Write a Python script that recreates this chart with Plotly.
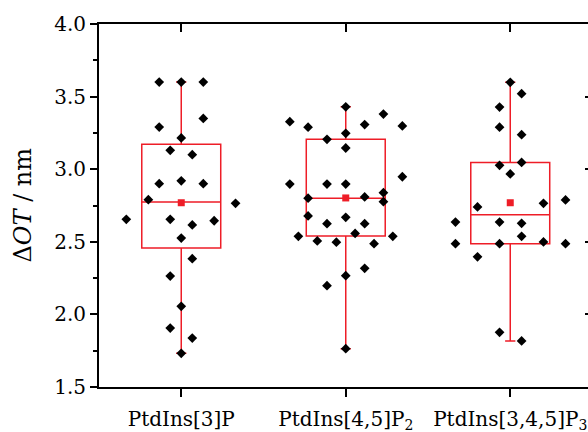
import plotly.graph_objects as go

# ---- data ----
categories = ["PtdIns[3]P", "PtdIns[4,5]P<sub>2</sub>", "PtdIns[3,4,5]P<sub>3</sub>"]

g1_values = [3.60, 3.60, 3.60, 3.35, 3.29, 3.215, 3.13, 3.10, 2.90, 2.92, 2.90, 2.79,
             2.765, 2.655, 2.655, 2.616, 2.645, 2.526, 2.384, 2.264, 2.056, 1.906, 1.837, 1.732]
g1_jitter = [-0.134, 0.0, 0.134, 0.134, -0.134, 0.0, -0.067, 0.067, -0.134, 0.0, 0.134, -0.20,
             0.33, -0.334, -0.067, 0.067, 0.20, 0.0, 0.067, -0.067, 0.0, -0.067, 0.067, 0.0]

g2_values = [3.43, 3.38, 3.327, 3.289, 3.307, 3.298, 3.247, 3.206, 3.146, 2.948, 2.898, 2.898,
             2.898, 2.838, 2.776, 2.809, 2.800, 2.678, 2.669, 2.625, 2.625, 2.558, 2.538, 2.538,
             2.506, 2.497, 2.487, 2.317, 2.267, 2.198, 1.764]
g2_jitter = [0.0, 0.229, -0.34, -0.229, 0.115, 0.344, 0.0, -0.114, 0.0, 0.344, -0.34, -0.114,
             0.0, 0.229, 0.229, 0.115, -0.229, -0.229, 0.0, -0.114, 0.115, 0.057, -0.288, 0.286,
             -0.173, -0.057, 0.172, 0.115, 0.0, -0.114, 0.0]

g3_values = [3.598, 3.52, 3.428, 3.289, 3.238, 3.047, 3.027, 2.967, 2.788, 2.765, 2.740, 2.636,
             2.636, 2.627, 2.538, 2.487, 2.487, 2.499, 2.487, 2.397, 1.877, 1.817]
g3_jitter = [0.0, 0.069, -0.065, -0.065, 0.069, 0.069, -0.065, 0.0, 0.336, 0.202, -0.199, -0.333,
             -0.065, 0.069, 0.069, -0.333, -0.065, 0.202, 0.336, -0.199, -0.065, 0.069]

q1 = [2.457, 2.540, 2.487]
median = [2.774, 2.800, 2.687]
q3 = [3.171, 3.206, 3.047]
lower = [1.732, 1.764, 1.817]
upper = [3.600, 3.430, 3.598]
means = [2.769, 2.802, 2.769]

yticks = [1.5, 2.0, 2.5, 3.0, 3.5, 4.0]

# ---- figure ----
RED = "#EE1D27"
FONT = "DejaVu Serif"
positions = [1, 2, 3]

fig = go.Figure()
for i, p in enumerate(positions):
    fig.add_trace(go.Box(
        x=[p], q1=[q1[i]], median=[median[i]], q3=[q3[i]],
        lowerfence=[lower[i]], upperfence=[upper[i]],
        width=0.48, whiskerwidth=0.13, boxpoints=False,
        line=dict(color=RED, width=1.5), fillcolor="rgba(0,0,0,0)",
        showlegend=False, hoverinfo="skip"))

fig.add_trace(go.Scatter(
    x=positions, y=means, mode="markers",
    marker=dict(symbol="square", size=7, color=RED),
    showlegend=False, hoverinfo="skip"))

for p, vals, jit in [(1, g1_values, g1_jitter), (2, g2_values, g2_jitter), (3, g3_values, g3_jitter)]:
    fig.add_trace(go.Scatter(
        x=[p + j for j in jit], y=vals, mode="markers",
        marker=dict(symbol="diamond", size=7.5, color="black"),
        showlegend=False, hoverinfo="skip"))

# invisible trace to host the mirrored axes
fig.add_trace(go.Scatter(x=[1], y=[2.5], xaxis="x2", yaxis="y2", mode="markers",
                         marker=dict(opacity=0), showlegend=False, hoverinfo="skip"))

xr = [0.5, 0.5 + 489 / 164.5]
yr = [1.5, 4.0]

fig.update_layout(
    width=588, height=432,
    margin=dict(l=99, r=0, t=24, b=45, autoexpand=False),
    paper_bgcolor="white", plot_bgcolor="white",
    font=dict(family=FONT, size=20, color="black"),
    xaxis=dict(range=xr, tickmode="array", tickvals=positions, ticktext=categories,
               ticks="outside", ticklen=8, tickwidth=2, tickcolor="black",
               showline=True, linewidth=2, linecolor="black", ticklabeloverflow="allow",
               ticklabelstandoff=5, automargin=False,
               showgrid=False, zeroline=False, tickfont=dict(family=FONT, size=20)),
    xaxis2=dict(range=xr, overlaying="x", side="top", anchor="y2", automargin=False,
                tickmode="array", tickvals=positions, ticks="inside", ticklen=8,
                tickwidth=2, tickcolor="black", showline=True, linewidth=2,
                linecolor="black", showticklabels=False, showgrid=False, zeroline=False),
    yaxis=dict(range=yr, tickmode="array", tickvals=yticks, tickformat=".1f",
               ticks="outside", ticklen=7, tickwidth=2, tickcolor="black",
               showline=True, linewidth=2, linecolor="black", automargin=False,
               showgrid=False, zeroline=False, tickfont=dict(family=FONT, size=20),
               minor=dict(dtick=0.25, tick0=1.5, ticks="outside", ticklen=4,
                          tickwidth=2, tickcolor="black")),
    yaxis2=dict(range=yr, overlaying="y", side="right", anchor="x2", automargin=False,
                tickmode="array", tickvals=yticks, ticks="inside", ticklen=3,
                tickwidth=2, tickcolor="black", showline=False,
                showticklabels=False, showgrid=False, zeroline=False),
    annotations=[dict(text="Δ<i>OT</i> / nm", xref="paper", yref="paper",
                      x=-(99 - 22) / 489, y=0.5, textangle=-90, showarrow=False,
                      xanchor="center", yanchor="middle",
                      font=dict(family=FONT, size=24, color="black"))],
)

fig.write_html("out.html")
